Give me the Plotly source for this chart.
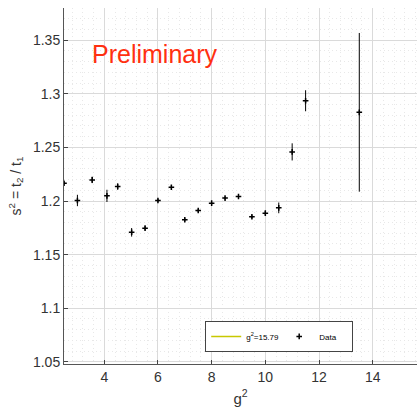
import plotly.graph_objects as go

# Data
g2 = [2.5, 3.0, 3.55, 4.1, 4.5, 5.02, 5.52, 6.0, 6.5, 7.0, 7.5, 8.0, 8.5, 9.0, 9.5, 10.0, 10.5, 11.0, 11.5, 13.5]
s2 = [1.2166, 1.2005, 1.2197, 1.2048, 1.2135, 1.1708, 1.1747, 1.2005, 1.2129, 1.1825, 1.1911, 1.1980, 1.2027, 1.2042,
      1.1853, 1.1887, 1.1936, 1.2458, 1.2935, 1.2827]
s2_err = [0.002, 0.0053, 0.003, 0.0057, 0.003, 0.004, 0.002, 0.0015, 0.002, 0.0015, 0.0015, 0.0015, 0.0015, 0.0015,
          0.0015, 0.002, 0.005, 0.008, 0.0098, 0.0740]
fit_label = "g<sup>2</sup>=15.79"
fit_x = [None]
fit_y = [None]

fig = go.Figure()
fig.add_trace(go.Scatter(x=fit_x, y=fit_y, mode="lines", name=fit_label,
                         line=dict(color="#c8c800", width=1.5)))
fig.add_trace(go.Scatter(x=g2, y=s2, mode="markers", name="Data",
                         marker=dict(symbol="cross-thin", size=4, color="black",
                                     line=dict(color="black", width=1.5)),
                         error_y=dict(type="data", array=s2_err, visible=True,
                                      color="black", thickness=1, width=0)))

fig.add_annotation(x=3.45, y=1.3375, xref="x", yref="y", text="Preliminary",
                   showarrow=False, xanchor="left", yanchor="middle",
                   font=dict(family="Liberation Sans", size=25, color="#ff3010"))

axis_common = dict(showline=True, linecolor="#555555", linewidth=1, mirror=False,
                   ticks="inside", ticklen=4, tickcolor="#444444",
                   showgrid=True, gridcolor="#dadada", gridwidth=1,
                   zeroline=False,
                   tickfont=dict(family="Liberation Sans", size=14, color="#333333"))

fig.update_layout(
    width=417, height=410,
    margin=dict(l=64, r=0, t=8, b=46, autoexpand=False),
    paper_bgcolor="white", plot_bgcolor="white",
    showlegend=True,
    legend=dict(orientation="h", x=0.40, y=0.034, xanchor="left", yanchor="bottom",
                bgcolor="white", bordercolor="#444444", borderwidth=1,
                font=dict(family="Liberation Sans", size=8, color="black"),
                entrywidth=28, tracegroupgap=0, itemwidth=30),
    xaxis=dict(range=[2.5, 15.65], tick0=0, dtick=2,
               minor=dict(tick0=0, dtick=0.4, showgrid=True, gridcolor="#e8e8e8", griddash="1px,3px", ticks=""),
               title=dict(text="g<sup>2</sup>", font=dict(family="Liberation Sans", size=15, color="#333333"),
                          standoff=9),
               **axis_common),
    yaxis=dict(range=[1.048, 1.380], tick0=1.05, dtick=0.05, tickformat="~g",
               minor=dict(tick0=1.0, dtick=0.01, showgrid=True, gridcolor="#e8e8e8", griddash="1px,3px", ticks=""),
               title=dict(text="s<sup>2</sup> = t<sub>2</sub> / t<sub>1</sub>",
                          font=dict(family="Liberation Sans", size=14, color="#333333"), standoff=8),
               **axis_common),
)

fig.write_html("out.html")
